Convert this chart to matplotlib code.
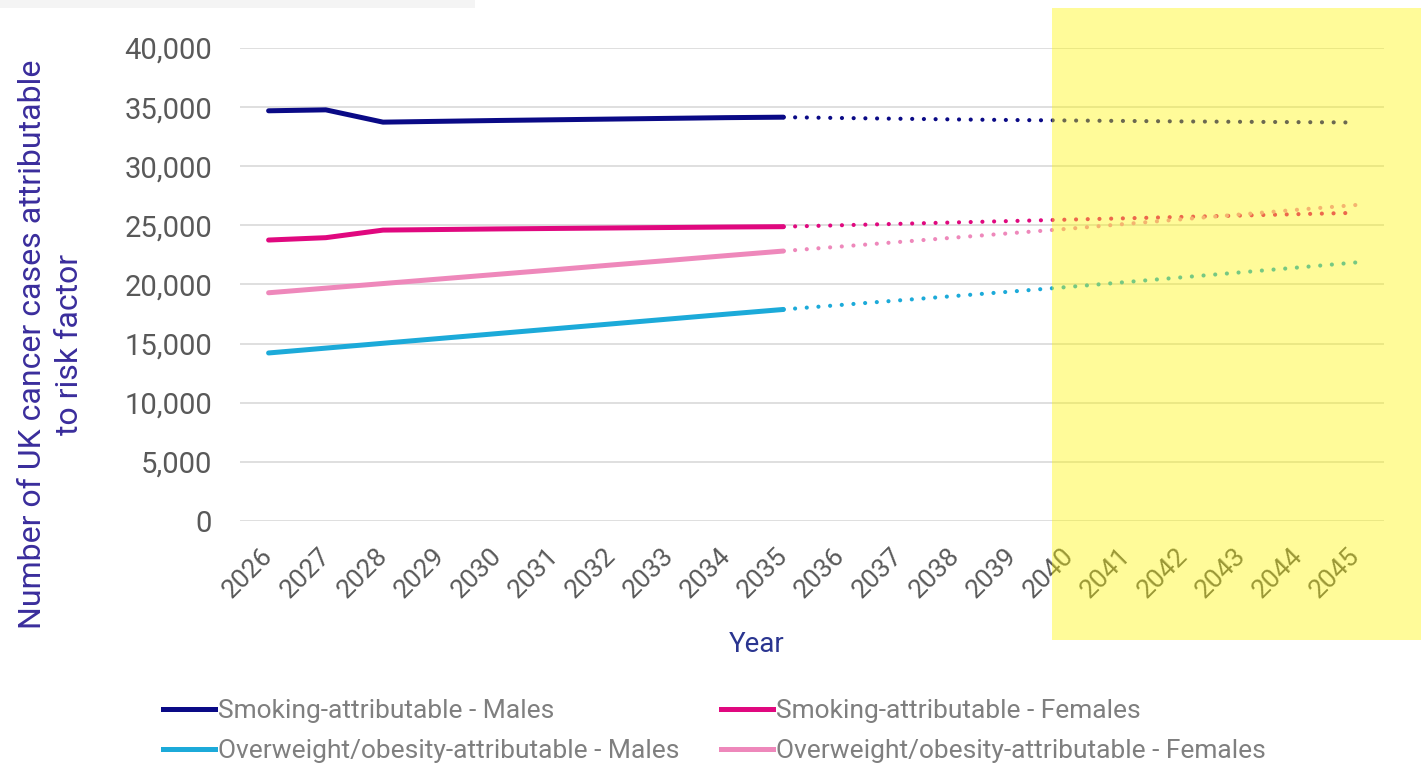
import matplotlib
matplotlib.use("Agg")
import matplotlib.pyplot as plt
import matplotlib.transforms as mtransforms
from matplotlib.patches import Rectangle
from matplotlib.lines import Line2D

years = [str(y) for y in range(2026, 2046)]
observed_years = years[:10]          # 2026-2035, solid
projected_years = years[9:]          # 2035-2045, dotted

smoking_males = [34690, 34770, 33730, 33800, 33870, 33930, 33990, 34050, 34110, 34150]
smoking_females = [23760, 23960, 24600, 24650, 24700, 24740, 24780, 24820, 24860, 24890]
obesity_males = [14210, 14620, 15030, 15440, 15850, 16260, 16670, 17080, 17490, 17890]
obesity_females = [19300, 19690, 20080, 20470, 20860, 21250, 21650, 22040, 22440, 22830]

smoking_males_proj = [34150, 34080, 34020, 33960, 33910, 33870, 33830, 33790, 33760, 33730, 33700]
smoking_females_proj = [24890, 25010, 25130, 25250, 25370, 25490, 25600, 25720, 25830, 25950, 26060]
obesity_males_proj = [17890, 18270, 18650, 19030, 19410, 19800, 20210, 20620, 21030, 21440, 21860]
obesity_females_proj = [22830, 23210, 23590, 23970, 24350, 24720, 25130, 25530, 25930, 26330, 26720]

labels = ["Smoking-attributable - Males", "Smoking-attributable - Females",
          "Overweight/obesity-attributable - Males", "Overweight/obesity-attributable - Females"]
colors = ["#0a0a86", "#e0087f", "#1caad9", "#ee88bb"]

yticks = list(range(0, 40001, 5000))

FONT = "Roboto"
W, H = 1421, 770
fig = plt.figure(figsize=(W / 100, H / 100), dpi=100)
ax = fig.add_axes([240 / W, 1 - 521 / H, (1384 - 240) / W, (521 - 48) / H])

xpos = {y: i for i, y in enumerate(years)}
obs_x = [xpos[y] for y in observed_years]
proj_x = [xpos[y] for y in projected_years]

series = [(smoking_males, smoking_males_proj), (smoking_females, smoking_females_proj),
          (obesity_males, obesity_males_proj), (obesity_females, obesity_females_proj)]
for i in [0, 1, 3, 2]:
    obs, proj = series[i]
    ax.plot(obs_x, obs, color=colors[i], lw=3.6, solid_capstyle="round", zorder=3)
    ax.plot(proj_x, proj, color=colors[i], lw=3.0, linestyle=(0, (0.01, 2.8)),
            dash_capstyle="round", zorder=3)

ax.set_xlim(-0.5, len(years) - 0.5)
ax.set_ylim(0, 40000)
ax.set_yticks(yticks)
ax.set_yticklabels([f"{v:,}" for v in yticks])
ax.set_xticks(range(len(years)))
ax.set_xticklabels(years, rotation=45, ha="right", va="top", rotation_mode="anchor")
ax.grid(axis="y", color="#d9d9d9", lw=1.2)
ax.set_axisbelow(True)
for s in ax.spines.values():
    s.set_visible(False)
ax.tick_params(length=0, labelcolor="#595959")
ax.tick_params(axis="y", pad=20, labelsize=21)
ax.tick_params(axis="x", pad=16, labelsize=19)
shift = mtransforms.ScaledTranslation(-8 / 100, 0, fig.dpi_scale_trans)
for t in ax.get_xticklabels():
    t.set_fontfamily(FONT)
    t.set_transform(t.get_transform() + shift)
for t in ax.get_yticklabels():
    t.set_fontfamily(FONT)

fig.text(757 / W, 1 - 645 / H, "Year", color="#2a3590", fontsize=20, family=FONT,
         ha="center", va="center")
fig.text(51 / W, 1 - 344 / H, "Number of UK cancer cases attributable\nto risk factor",
         color="#3a2d9c", fontsize=23, family=FONT, rotation=90,
         ha="center", va="center", multialignment="center", linespacing=1.35)

# legend is filled column by column, so order the entries to read row by row
order = [0, 2, 1, 3]
handles = [Line2D([], [], color=colors[i], lw=3.6) for i in order]
leg = fig.legend(handles, [labels[i] for i in order], ncol=2, loc="upper left",
                 bbox_to_anchor=(163 / W, 1 - 699 / H), frameon=False,
                 borderpad=0, borderaxespad=0, handlelength=1.97, handletextpad=0.1,
                 columnspacing=1.6, labelspacing=0.61,
                 prop={"family": FONT, "size": 19})
for t in leg.get_texts():
    t.set_color("#7f7f7f")

# highlighted window over the later years, and the thin strip at the top
fig.patches.append(Rectangle((1052 / W, 1 - 640 / H), (W - 1052) / W, 632 / H,
                             transform=fig.transFigure, facecolor="#fff700",
                             alpha=0.4, edgecolor="none", zorder=10))
fig.patches.append(Rectangle((0, 1 - 8 / H), 475 / W, 8 / H,
                             transform=fig.transFigure, facecolor="#f4f4f4",
                             edgecolor="none", zorder=10))

fig.savefig("out.png", dpi=100)
